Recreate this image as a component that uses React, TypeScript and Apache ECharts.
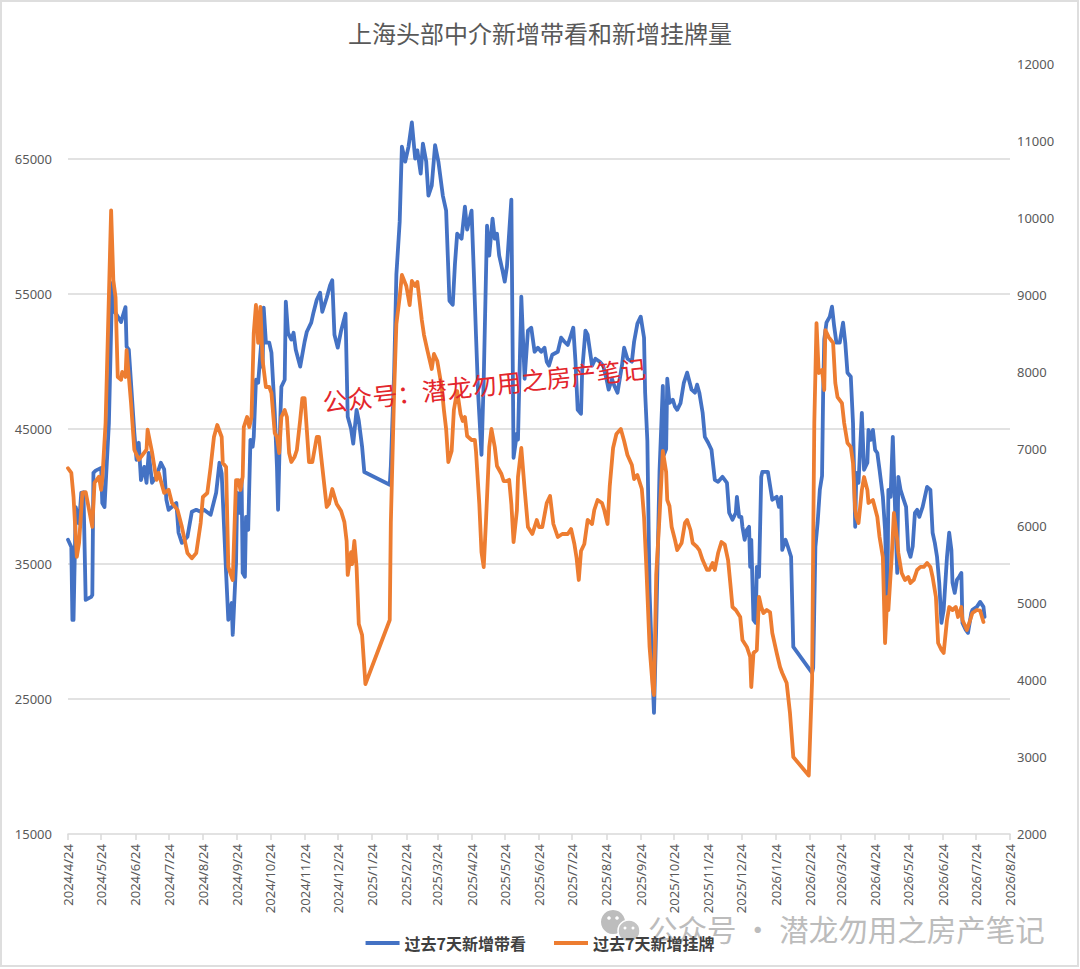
import React, { useEffect, useRef } from 'react';
import * as echarts from 'echarts';

const TITLE = '上海头部中介新增带看和新增挂牌量';
const SERIES_NAMES = ['过去7天新增带看', '过去7天新增挂牌'];
const START_DATE = [2024, 4, 24];
const END_DATE = [2026, 8, 24];
const LEFT_TICKS = [15000, 25000, 35000, 45000, 55000, 65000];
const RIGHT_TICKS = [2000, 3000, 4000, 5000, 6000, 7000, 8000, 9000, 10000, 11000, 12000];
const WATERMARK_RED = '公众号：潜龙勿用之房产笔记';
const WATERMARK_GRAY = '公众号 · 潜龙勿用之房产笔记';

// [days since 2024/4/24, value]
const blueViewings: [number, number][] = [
  [0,36780],[3,36250],[4,30850],[5,30850],[7,39200],[10,38000],[12,40250],[14,40300],[16,32330],[21,32550],[22,32700],[23,41740],[25,41900],[30,42100],[31,39500],[33,39200],[37,45440],[40,55800],[41,53800],[44,53440],[48,52900],[49,53200],[52,54000],[53,51070],[55,50850],[60,44700],[62,42700],[64,43960],[66,41200],[69,42180],[71,41000],[73,43220],[76,41000],[80,41500],[84,42480],[87,42000],[89,39740],[91,39000],[98,39500],[100,37300],[103,36550],[108,37000],[112,38850],[116,39000],[120,38850],[123,39000],[129,38630],[134,40260],[137,42480],[139,41700],[143,34330],[145,30850],[148,32100],[149,29740],[152,35070],[153,40260],[155,38780],[157,41220],[158,34330],[160,34040],[161,38480],[163,37520],[165,44180],[167,43670],[168,44400],[170,48630],[172,48400],[175,51600],[176,49600],[177,53960],[179,51370],[182,51370],[184,50630],[187,46180],[189,42180],[190,39000],[192,45660],[193,48110],[196,48630],[197,54400],[199,52100],[202,51600],[204,52100],[206,50850],[210,49600],[214,51440],[216,52180],[220,52850],[222,53590],[225,54550],[228,55070],[230,53660],[234,54700],[237,55600],[239,56000],[241,51960],[244,51000],[247,52260],[251,53520],[253,45890],[256,45000],[258,43900],[261,46400],[263,45600],[266,43670],[268,41800],[291,40850],[292,42260],[295,49220],[297,56400],[300,60330],[302,65890],[305,64780],[308,65890],[311,67670],[314,65000],[316,65600],[319,63890],[321,66110],[324,64780],[326,62260],[329,63000],[332,66000],[335,64780],[339,62260],[342,61150],[345,54480],[348,54180],[350,57220],[352,59440],[356,59070],[359,61440],[361,59740],[365,61150],[367,56700],[369,51960],[371,47520],[374,43070],[376,48630],[379,60030],[381,57810],[384,60550],[386,59070],[388,59440],[390,57810],[393,56700],[395,55890],[397,57000],[401,61960],[403,42850],[406,44630],[407,44200],[410,54780],[413,48700],[416,52260],[419,52480],[422,50700],[425,51000],[428,50700],[431,51000],[433,49960],[435,49670],[438,50480],[443,50700],[446,51740],[449,51440],[452,51200],[455,51960],[457,52480],[459,49960],[461,46400],[464,46110],[465,49220],[468,52260],[470,51960],[474,49670],[477,50180],[481,49960],[484,49670],[487,48700],[489,47890],[492,48700],[494,48200],[497,47670],[501,49670],[503,51000],[506,50180],[510,49960],[512,51440],[515,52780],[518,53300],[521,51740],[522,47670],[524,44110],[526,32930],[529,26040],[530,23960],[532,30330],[535,41810],[538,48180],[539,43070],[541,43500],[542,48700],[544,46920],[547,47150],[549,46630],[551,46400],[554,46900],[557,48400],[560,49150],[564,47890],[567,47670],[569,48260],[571,47670],[574,46180],[576,44400],[579,43960],[582,43440],[585,41220],[588,41070],[592,41440],[596,41000],[598,38780],[601,38260],[604,38780],[605,39960],[607,38480],[609,38480],[610,37740],[612,36780],[614,37520],[616,37740],[617,34780],[618,36780],[620,30850],[622,30630],[623,34780],[625,34040],[627,41440],[628,41810],[633,41810],[636,40260],[637,39740],[641,39960],[643,39220],[645,39960],[646,36030],[649,36780],[651,36300],[654,35520],[656,28850],[673,26930],[674,27300],[676,36260],[678,38040],[680,40480],[682,41500],[683,47670],[684,51600],[686,52850],[689,53300],[691,54040],[693,52560],[695,51370],[698,51370],[701,52850],[703,51370],[705,49150],[708,48850],[710,45440],[712,37740],[713,41740],[715,41000],[718,46180],[720,41960],[723,42480],[724,44920],[726,44180],[728,44920],[730,43440],[732,43200],[734,41960],[737,39960],[739,37520],[741,31590],[742,40480],[744,39960],[746,44400],[748,39220],[750,34330],[751,41440],[753,40480],[755,39960],[758,39220],[760,36030],[762,35520],[764,36300],[766,38780],[768,39000],[770,38480],[773,39220],[775,39960],[777,40700],[780,40480],[782,37300],[784,36550],[786,35520],[788,33590],[790,30630],[792,31590],[795,35520],[797,37300],[799,36030],[800,33590],[802,32850],[804,33810],[806,34040],[808,34330],[809,30630],[812,30110],[814,29890],[817,31370],[818,31590],[822,31810],[825,32180],[828,31810],[829,31070]
];

const orangeListings: [number, number][] = [
  [0,6750],[3,6690],[5,6380],[8,5600],[10,5780],[13,6430],[16,6440],[22,5990],[24,6560],[28,6640],[30,6470],[31,6600],[34,7340],[39,10100],[41,9190],[43,8970],[45,7935],[48,7900],[49,8000],[52,7935],[53,8285],[57,7600],[60,6990],[64,6860],[71,6990],[72,7250],[76,6960],[80,6600],[82,6690],[87,6430],[91,6470],[94,6300],[99,6210],[103,5990],[108,5650],[112,5580],[116,5650],[120,6040],[122,6377],[126,6429],[129,6766],[132,7156],[135,7312],[139,7156],[140,6818],[143,6766],[145,5468],[148,5338],[149,5299],[152,6597],[154,6597],[156,6468],[158,6640],[159,7286],[162,7416],[164,7286],[166,7416],[168,8506],[170,8870],[172,8377],[174,8844],[176,8156],[179,7805],[182,7805],[184,7727],[187,7208],[189,7156],[191,6948],[193,7416],[196,7506],[198,7416],[200,6948],[202,6831],[205,6900],[207,6987],[210,7377],[212,7662],[214,7662],[216,7247],[218,6831],[221,6831],[225,7156],[227,7156],[230,6766],[234,6247],[236,6286],[239,6480],[243,6286],[247,6195],[250,6050],[252,5805],[253,5364],[256,5660],[257,5506],[259,5805],[261,5467],[263,4727],[266,4584],[269,3948],[291,4779],[292,6050],[295,7753],[297,8623],[300,8974],[302,9260],[306,9117],[309,8870],[311,9182],[314,9117],[316,9169],[320,8675],[322,8480],[325,8285],[329,8039],[331,8234],[334,8143],[338,7805],[340,7506],[342,7260],[344,6831],[347,6974],[349,7506],[352,7753],[355,7454],[357,7364],[359,7415],[361,7169],[365,7117],[368,7117],[369,6974],[372,6286],[374,5660],[376,5467],[378,6050],[381,7026],[383,7260],[386,7026],[388,6779],[392,6675],[394,6584],[397,6584],[399,6600],[401,6286],[403,5790],[406,6200],[407,6636],[410,7013],[413,6480],[416,5987],[420,5896],[424,6078],[426,5987],[429,5987],[433,6299],[436,6390],[439,6026],[443,5857],[447,5896],[452,5896],[455,5961],[458,5766],[460,5584],[462,5299],[464,5675],[467,5766],[470,6078],[474,6026],[476,6208],[479,6338],[483,6299],[485,6208],[488,6026],[490,6520],[493,7013],[496,7195],[500,7260],[503,7104],[506,6922],[510,6792],[512,6610],[515,6662],[519,6480],[521,6117],[523,5494],[526,4429],[529,3883],[530,3805],[532,5364],[535,6117],[538,6974],[541,6701],[542,6338],[544,6260],[546,5987],[549,5818],[551,5688],[555,5779],[558,6039],[560,6078],[563,5948],[565,5779],[569,5727],[571,5688],[574,5558],[578,5429],[580,5429],[583,5519],[585,5429],[588,5649],[591,5792],[594,5760],[597,5558],[599,5260],[601,4948],[604,4909],[608,4818],[610,4519],[614,4429],[617,4299],[618,3909],[620,4351],[623,4390],[625,5078],[627,4948],[629,4870],[632,4909],[635,4880],[637,4610],[641,4351],[644,4169],[646,4091],[650,3961],[653,3571],[656,3000],[670,2760],[673,4000],[674,5800],[675,7338],[677,8636],[679,7987],[682,8026],[684,7766],[685,8545],[688,8454],[692,8377],[694,7857],[696,7675],[700,7597],[702,7338],[705,7078],[708,7026],[710,6818],[712,6208],[713,6117],[715,6039],[718,6468],[720,6636],[723,6468],[724,6299],[728,6338],[732,6117],[734,5857],[737,5597],[739,4480],[741,5078],[742,4909],[745,5597],[747,6169],[750,5818],[751,5649],[754,5390],[757,5299],[760,5338],[762,5260],[765,5300],[768,5429],[771,5468],[774,5468],[777,5519],[780,5468],[782,5338],[785,5078],[787,4480],[790,4390],[792,4351],[795,4779],[797,4948],[800,4909],[803,4948],[805,4818],[808,4948],[809,4779],[813,4649],[816,4779],[818,4870],[822,4909],[825,4900],[828,4753]
];

const BLUE = '#4472C4';
const ORANGE = '#ED7D31';
const GRID_GRAY = '#d9d9d9';
const TEXT_GRAY = '#595959';
const CJK = '"Noto Sans CJK SC", "Noto Sans", sans-serif';

function buildDates(): string[] {
  const out: string[] = [];
  const start = Date.UTC(START_DATE[0], START_DATE[1] - 1, START_DATE[2]);
  const end = Date.UTC(END_DATE[0], END_DATE[1] - 1, END_DATE[2]);
  for (let t = start; t <= end; t += 86400000) {
    const d = new Date(t);
    out.push(`${d.getUTCFullYear()}/${d.getUTCMonth() + 1}/${d.getUTCDate()}`);
  }
  return out;
}

export default function App() {
  const ref = useRef<HTMLDivElement>(null);

  useEffect(() => {
    document.body.style.margin = '0';
    if (!ref.current) return;
    const chart = echarts.init(ref.current, undefined, { renderer: 'svg' });
    const dates = buildDates();
    const isMonthTick = (_i: number, v: string) => v.endsWith('/24');

    const leftMin = 15000;
    const leftMax = 72000;
    const leftStep = 5000;
    const leftVals: number[] = [];
    for (let v = leftMin; v < leftMax; v += leftStep) leftVals.push(v);
    leftVals.push(leftMax);
    const leftLineColors = leftVals.map((v) =>
      LEFT_TICKS.includes(v) && v !== leftMin ? GRID_GRAY : 'rgba(0,0,0,0)'
    );

    const option: any = {
      animation: false,
      backgroundColor: '#ffffff',
      title: {
        text: TITLE,
        left: 'center',
        top: 15,
        textStyle: { fontSize: 24, fontWeight: 'normal', color: TEXT_GRAY, fontFamily: CJK },
      },
      grid: { left: 68, right: 70, top: 64, bottom: 135 },
      legend: {
        data: SERIES_NAMES,
        left: 'center',
        top: 930,
        icon: 'rect',
        itemWidth: 34,
        itemHeight: 4,
        itemGap: 28,
        textStyle: { fontSize: 16, fontWeight: 'bold', color: '#404040', fontFamily: CJK },
      },
      xAxis: {
        type: 'category',
        data: dates,
        boundaryGap: false,
        axisLine: { lineStyle: { color: GRID_GRAY, width: 1.5 } },
        axisTick: { interval: isMonthTick, length: 6, lineStyle: { color: GRID_GRAY, width: 1.5 } },
        axisLabel: {
          interval: isMonthTick,
          rotate: 90,
          margin: 10,
          color: TEXT_GRAY,
          fontSize: 13,
          fontFamily: '"Noto Sans", sans-serif',
        },
        splitLine: { show: false },
      },
      yAxis: [
        {
          type: 'value',
          min: leftMin,
          max: leftMax,
          interval: leftStep,
          axisLine: { show: false },
          axisTick: { show: false },
          axisLabel: {
            formatter: (v: number) => (LEFT_TICKS.includes(v) ? String(v) : ''),
            color: TEXT_GRAY,
            fontSize: 13,
            margin: 16,
            fontFamily: '"Noto Sans", sans-serif',
          },
          splitLine: { show: true, lineStyle: { color: leftLineColors, width: 1.5 } },
        },
        {
          type: 'value',
          min: RIGHT_TICKS[0],
          max: RIGHT_TICKS[RIGHT_TICKS.length - 1],
          interval: 1000,
          axisLine: { show: false },
          axisTick: { show: false },
          axisLabel: {
            formatter: (v: number) => (RIGHT_TICKS.includes(v) ? String(v) : ''),
            color: TEXT_GRAY,
            fontSize: 13,
            margin: 7,
            fontFamily: '"Noto Sans", sans-serif',
          },
          splitLine: { show: false },
        },
      ],
      series: [
        {
          name: SERIES_NAMES[0],
          type: 'line',
          yAxisIndex: 0,
          data: blueViewings,
          showSymbol: false,
          symbol: 'none',
          lineStyle: { color: BLUE, width: 3.8, join: 'round', cap: 'round' },
          itemStyle: { color: BLUE },
          z: 2,
        },
        {
          name: SERIES_NAMES[1],
          type: 'line',
          yAxisIndex: 1,
          data: orangeListings,
          showSymbol: false,
          symbol: 'none',
          lineStyle: { color: ORANGE, width: 3.8, join: 'round', cap: 'round' },
          itemStyle: { color: ORANGE },
          z: 3,
        },
      ],
      graphic: [
        {
          type: 'rect',
          shape: { x: 1, y: 1, width: 1077, height: 965 },
          style: { fill: 'none', stroke: '#dedede', lineWidth: 2 },
          silent: true,
          z: 0,
        },
        {
          type: 'text',
          x: 484,
          y: 384,
          rotation: 0.105,
          z: 100,
          style: {
            text: WATERMARK_RED,
            fill: '#e3262c',
            fontSize: 25,
            fontFamily: CJK,
            align: 'center',
            verticalAlign: 'middle',
          },
        },
        {
          type: 'group',
          z: 100,
          children: [
            { type: 'circle', shape: { cx: 613, cy: 922, r: 12 }, style: { fill: '#bdbdbd' } },
            { type: 'circle', shape: { cx: 629, cy: 931, r: 11 }, style: { fill: '#c4c4c4', stroke: '#ffffff', lineWidth: 1.5 } },
            { type: 'circle', shape: { cx: 609, cy: 918, r: 1.8 }, style: { fill: '#ffffff' } },
            { type: 'circle', shape: { cx: 617, cy: 918, r: 1.8 }, style: { fill: '#ffffff' } },
            { type: 'circle', shape: { cx: 625, cy: 928, r: 1.5 }, style: { fill: '#ffffff' } },
            { type: 'circle', shape: { cx: 633, cy: 928, r: 1.5 }, style: { fill: '#ffffff' } },
            {
              type: 'text',
              x: 648,
              y: 928,
              style: {
                text: WATERMARK_GRAY,
                fill: '#bcbcbc',
                fontSize: 29.5,
                fontFamily: CJK,
                align: 'left',
                verticalAlign: 'middle',
              },
            },
          ],
        },
      ],
    };

    chart.setOption(option);
    return () => chart.dispose();
  }, []);

  return <div ref={ref} style={{ width: 1080, height: 969 }} />;
}
